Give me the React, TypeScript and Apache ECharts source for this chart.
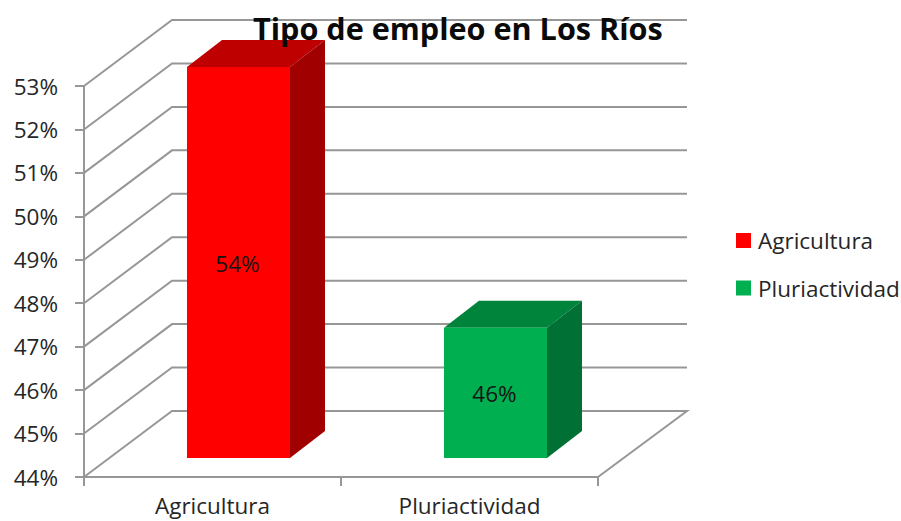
import React, { useEffect, useRef } from "react";
import * as echarts from "echarts";

const titleText = "Tipo de empleo en Los Ríos";
const categories = ["Agricultura", "Pluriactividad"];
const barValues = [54, 47];
const barLabels = ["54%", "46%"];
const ticks = [44, 45, 46, 47, 48, 49, 50, 51, 52, 53];
const FONT = "Open Sans";
const GRAY = "#979797";
const TEXT = "#262626";
const DEPTH_X = 88;
const DEPTH_Y = 66;
const BAR_DX = 35;
const BAR_DY = 27;
const BAR_SHIFT_X = 26;
const BAR_SHIFT_Y = 19;
const BAR_W = 103;
const AXIS_MAX = 53;

function wallItem(params: any, api: any) {
  const cs = params.coordSys;
  const y = api.coord([0, api.value(1)])[1];
  const x0 = cs.x;
  const x1 = cs.x + cs.width;
  const points = [
    [x0, y],
    [x0 + DEPTH_X, y - DEPTH_Y],
    [x1 + DEPTH_X + 1, y - DEPTH_Y],
  ];
  const isFloor = api.value(1) === ticks[0];
  if (isFloor) points.push([x1, y]);
  return {
    type: "polyline",
    shape: { points },
    style: { fill: "none", stroke: GRAY, lineWidth: 2 },
  };
}

function barItem(front: string, top: string, side: string, label: string) {
  return (_params: any, api: any) => {
    const cat = api.value(0);
    const val = Math.min(api.value(1), AXIS_MAX);
    const c = api.coord([cat, val]);
    const b = api.coord([cat, ticks[0]]);
    const xl = c[0] - BAR_W / 2 + BAR_SHIFT_X;
    const xr = xl + BAR_W;
    const yt = c[1] - BAR_SHIFT_Y;
    const yb = b[1] - BAR_SHIFT_Y;
    return {
      type: "group",
      children: [
        {
          type: "polygon",
          shape: { points: [[xl, yt], [xr, yt], [xr + BAR_DX, yt - BAR_DY], [xl + BAR_DX, yt - BAR_DY]] },
          style: { fill: top },
        },
        {
          type: "polygon",
          shape: { points: [[xr, yt], [xr + BAR_DX, yt - BAR_DY], [xr + BAR_DX, yb - BAR_DY], [xr, yb]] },
          style: { fill: side },
        },
        {
          type: "rect",
          shape: { x: xl, y: yt, width: BAR_W, height: yb - yt },
          style: { fill: front },
        },
        {
          type: "text",
          style: {
            x: (xl + xr) / 2 - 1,
            y: (yt + yb) / 2 + 0.5,
            text: label,
            fill: "#141414",
            font: `22.5px "${FONT}"`,
            align: "center",
            verticalAlign: "middle",
          },
        },
      ],
    };
  };
}

export default function App() {
  const ref = useRef<HTMLDivElement>(null);
  useEffect(() => {
    const chart = echarts.init(ref.current!, undefined, { renderer: "svg" });
    chart.setOption({
      animation: false,
      backgroundColor: "#ffffff",
      title: {
        text: titleText,
        left: 253,
        top: 12,
        padding: 0,
        textStyle: { fontFamily: FONT, fontSize: 30.6, fontWeight: "bold", color: "#0a0a0a" },
      },
      legend: {
        orient: "vertical",
        left: 736,
        top: 229,
        padding: 0,
        itemWidth: 15,
        itemHeight: 15,
        itemGap: 24.5,
        icon: "rect",
        selectedMode: false,
        data: categories,
        textStyle: { fontFamily: FONT, fontSize: 22.5, color: TEXT, padding: [0, 0, 0, 2] },
      },
      grid: { left: 84, right: 303, top: 86, bottom: 44, outerBoundsMode: "none" },
      xAxis: {
        type: "category",
        data: categories,
        axisLine: { onZero: false, lineStyle: { color: GRAY, width: 2 } },
        axisTick: { show: true, length: 9, lineStyle: { color: GRAY, width: 2 } },
        axisLabel: { fontFamily: FONT, fontSize: 22.5, lineHeight: 22, color: TEXT, margin: 17 },
      },
      yAxis: {
        type: "value",
        min: 44,
        max: 53,
        interval: 1,
        splitLine: { show: false },
        axisLine: { show: true, lineStyle: { color: GRAY, width: 2 } },
        axisTick: { show: true, length: 9, lineStyle: { color: GRAY, width: 2 } },
        axisLabel: { formatter: "{value}%", fontFamily: FONT, fontSize: 22.5, color: TEXT, margin: 26 },
      },
      series: [
        {
          type: "custom",
          name: "walls",
          coordinateSystem: "cartesian2d",
          clip: false,
          z: 1,
          renderItem: wallItem,
          data: ticks.map((t) => [0, t]),
        },
        {
          type: "custom",
          name: categories[0],
          coordinateSystem: "cartesian2d",
          clip: false,
          z: 3,
          itemStyle: { color: "#ff0000" },
          renderItem: barItem("#ff0000", "#bf0000", "#a00000", barLabels[0]),
          data: [[0, barValues[0]]],
        },
        {
          type: "custom",
          name: categories[1],
          coordinateSystem: "cartesian2d",
          clip: false,
          z: 3,
          itemStyle: { color: "#00b050" },
          renderItem: barItem("#00b050", "#00843c", "#007035", barLabels[1]),
          data: [[1, barValues[1]]],
        },
      ],
    });
    return () => chart.dispose();
  }, []);
  return <div ref={ref} style={{ position: "fixed", left: 0, top: 0, width: 901, height: 521 }} />;
}
